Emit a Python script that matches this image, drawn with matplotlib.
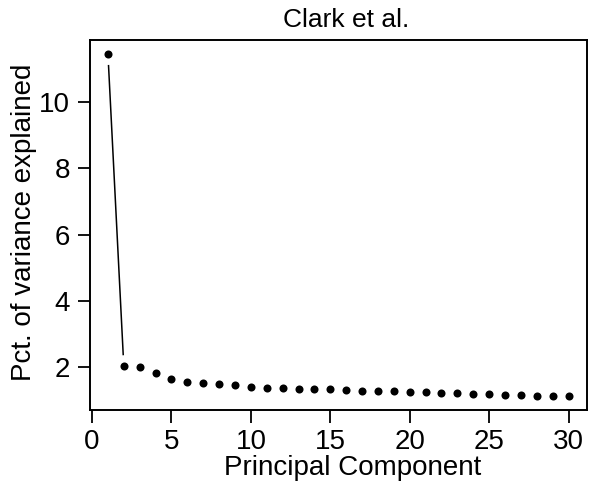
import numpy as np
import matplotlib
matplotlib.use("Agg")
import matplotlib.pyplot as plt

plt.rcParams['font.family'] = ['Liberation Sans', 'DejaVu Sans']

# percent of variance explained by the first 30 principal components
components = np.arange(1, 31)
pct_explained = [11.46, 2.02, 1.99, 1.82, 1.64, 1.55, 1.52, 1.50, 1.47, 1.39,
                 1.38, 1.38, 1.35, 1.35, 1.33, 1.31, 1.29, 1.29, 1.27, 1.26,
                 1.24, 1.22, 1.22, 1.20, 1.19, 1.17, 1.15, 1.14, 1.13, 1.12]
x_ticks = [0, 5, 10, 15, 20, 25, 30]
y_ticks = [2, 4, 6, 8, 10]

fs = 20
fig = plt.figure(figsize=(5.89, 4.90), dpi=100)
ax = fig.add_axes([89.5 / 589, 1 - 410 / 490, (587 - 89.5) / 589, 370 / 490])

# R-style 4% padding around the data range
x = np.asarray(components, dtype=float)
y = np.asarray(pct_explained)
xr = x.max() - x.min()
yr = y.max() - y.min()
ax.set_xlim(x.min() - 0.04 * xr, x.max() + 0.04 * xr)
ax.set_ylim(y.min() - 0.04 * yr, y.max() + 0.04 * yr)

ax.plot(x, y, 'o', color='black', markersize=5.8, markeredgewidth=0)

# type="b": connect points with segments that stop short of each marker
gap = 12.0
pts = ax.transData.transform(np.column_stack([x, y]))
inv = ax.transData.inverted()
for p0, p1 in zip(pts[:-1], pts[1:]):
    d = p1 - p0
    length = np.hypot(*d)
    if length <= 2 * gap:
        continue
    u = d / length
    a = inv.transform(p0 + u * gap)
    b = inv.transform(p1 - u * gap)
    ax.plot([a[0], b[0]], [a[1], b[1]], color='black', lw=1.1)

ax.set_xticks(x_ticks)
ax.set_yticks(y_ticks)
ax.tick_params(direction='out', length=9, width=1.3, labelsize=fs, pad=5)
for s in ax.spines.values():
    s.set_linewidth(1.4)

fig.text(346 / 589, 1 - 20 / 490, 'Clark et al.', ha='center', va='center', fontsize=fs - 1)
fig.text(353 / 589, 1 - 468 / 490, 'Principal Component', ha='center', va='center', fontsize=fs)
fig.text(24 / 589, 1 - 222 / 490, 'Pct. of variance explained', ha='center', va='center',
         rotation=90, fontsize=fs)

fig.savefig('out.png', dpi=100)
